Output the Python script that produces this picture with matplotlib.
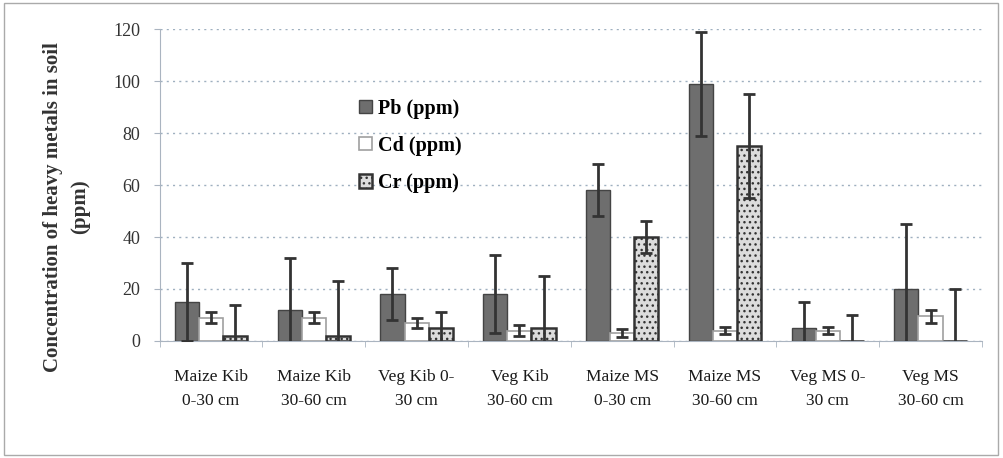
import numpy as np
import matplotlib.pyplot as plt
from matplotlib.patches import Rectangle

plt.rcParams['font.family'] = ['Liberation Serif', 'DejaVu Serif']
plt.rcParams['hatch.color'] = '#8a8a8a'

categories = ["Maize Kib\n0-30 cm", "Maize Kib\n30-60 cm", "Veg Kib 0-\n30 cm", "Veg Kib\n30-60 cm",
              "Maize MS\n0-30 cm", "Maize MS\n30-60 cm", "Veg MS 0-\n30 cm", "Veg MS\n30-60 cm"]
pb = [15, 12, 18, 18, 58, 99, 5, 20]
pb_err = [15, 20, 10, 15, 10, 20, 10, 25]
cd = [9, 9, 7, 4, 3, 4, 4, 9.5]
cd_err = [2, 2, 2, 2, 1.5, 1.5, 1.5, 2.5]
cr = [2, 2, 5, 5, 40, 75, 0, 0]
cr_err = [12, 21, 6, 20, 6, 20, 10, 20]
y_ticks = [0, 20, 40, 60, 80, 100, 120]

fig = plt.figure(figsize=(10.04, 4.58), dpi=100)
ax = fig.add_axes([0.159, 0.2555, 0.819, 0.681])

x = np.arange(len(categories))
w = 0.235
err_kw = dict(ecolor='#333333', elinewidth=2, capsize=4, capthick=2)

ax.bar(x - w, pb, w, yerr=pb_err, color='#6e6e6e', edgecolor='#444444', linewidth=1,
       label='Pb (ppm)', error_kw=err_kw, zorder=3)
ax.bar(x, cd, w, yerr=cd_err, color='white', edgecolor='#a0a0a0', linewidth=1.2,
       label='Cd (ppm)', error_kw=err_kw, zorder=3)
ax.bar(x + w, cr, w, yerr=cr_err, color='#dcdcdc', edgecolor='#333333', linewidth=1.8,
       hatch='...', label='Cr (ppm)', error_kw=err_kw, zorder=3)

ax.set_xlim(-0.5, len(categories) - 0.5)
ax.set_ylim(0, 120)
ax.set_yticks(y_ticks)
ax.set_yticklabels([str(v) for v in y_ticks], fontsize=13, color='#333333')
ax.set_xticks(x)
ax.set_xticklabels(categories, fontsize=12.5, color='#1a1a1a', linespacing=1.7)
ax.tick_params(axis='x', length=0, pad=20)
ax.set_xticks(np.arange(len(categories) + 1) - 0.5, minor=True)
ax.tick_params(axis='x', which='minor', length=4, color='#aab4c0', direction='out')
ax.tick_params(axis='y', length=4, color='#aab4c0', direction='out', pad=10)

ax.grid(axis='y', linestyle=(0, (1.5, 3)), color='#9fb0c0', linewidth=1, zorder=0)
for s in ['top', 'right']:
    ax.spines[s].set_visible(False)
ax.spines['left'].set_color('#aab4c0')
ax.spines['bottom'].set_color('#aab4c0')

ax.set_ylabel("Concentration of heavy metals in soil\n(ppm)", fontsize=15, fontweight='bold',
              color='#333333', linespacing=1.45)
ax.yaxis.set_label_coords(-0.1135, 0.43)
ax.yaxis.label.set_va('center')

ax.legend(loc='upper left', bbox_to_anchor=(0.22, 0.835), frameon=False,
          prop={'weight': 'bold', 'size': 14.5}, handlelength=0.65, handleheight=0.65,
          handletextpad=0.3, labelspacing=0.85)

fig.patches.append(Rectangle((0.004, 0.006), 0.99, 0.988, transform=fig.transFigure,
                             fill=False, edgecolor='#aaaaaa', linewidth=1))

fig.savefig('out.png', dpi=100)
